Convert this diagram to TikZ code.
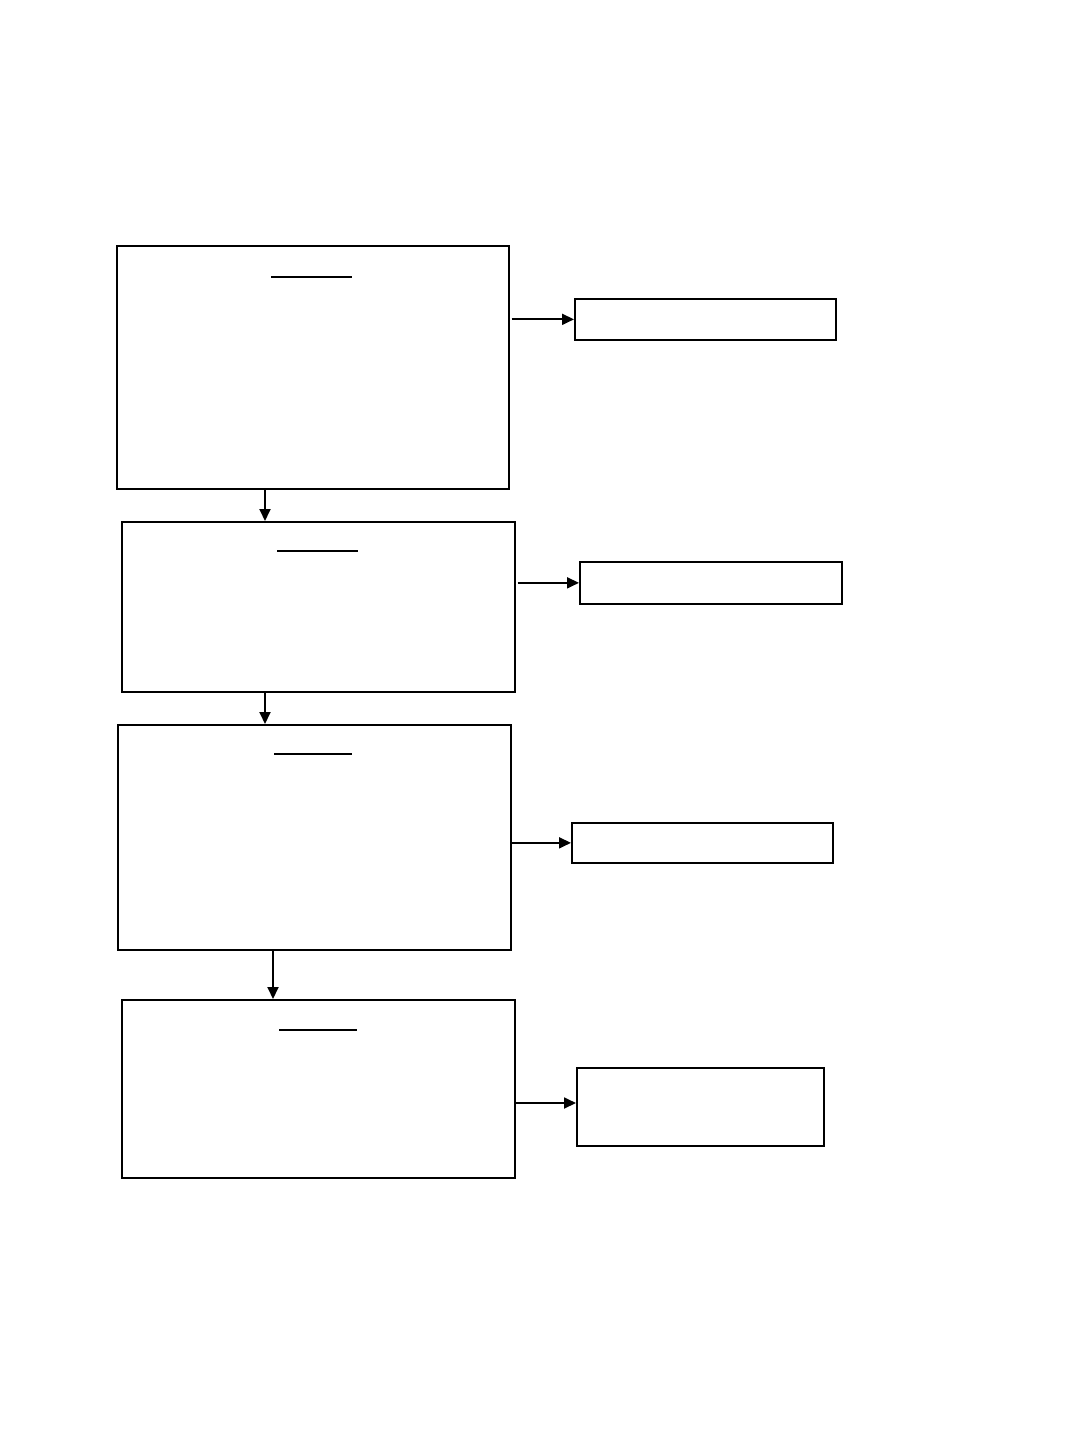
\documentclass[tikz,border=0pt]{standalone}
\usetikzlibrary{arrows.meta}
\begin{document}
\begin{tikzpicture}[x=1pt,y=-1pt,
  bigbox/.style={draw,line width=1.5pt,inner sep=0pt,anchor=north west},
  smallbox/.style={draw,line width=1.7pt,inner sep=0pt,anchor=north west},
  arr/.style={line width=1.8pt,-{Triangle[length=12pt,width=11pt]}},
  uline/.style={line width=1.8pt}]
\useasboundingbox (0,0) rectangle (1080,1440);
\fill[white] (0,0) rectangle (1080,1440);
% main boxes
\node[bigbox,minimum width=392pt,minimum height=243pt] (A) at (116,245) {};
\node[bigbox,minimum width=393pt,minimum height=170pt] (B) at (121,521) {};
\node[bigbox,minimum width=393pt,minimum height=225pt] (C) at (117,724) {};
\node[bigbox,minimum width=393pt,minimum height=178pt] (D) at (121,999) {};
% right boxes
\node[smallbox,minimum width=261pt,minimum height=41pt] (R1) at (574,298) {};
\node[smallbox,minimum width=262pt,minimum height=42pt] (R2) at (579,561) {};
\node[smallbox,minimum width=261pt,minimum height=40pt] (R3) at (571,822) {};
\node[smallbox,minimum width=247pt,minimum height=78pt] (R4) at (576,1067) {};
% underlines
\draw[uline] (271,277) -- (352,277);
\draw[uline] (277,551) -- (358,551);
\draw[uline] (274,754) -- (352,754);
\draw[line width=1.3pt] (279,1030) -- (357,1030);
% horizontal connectors
\draw[arr] ([xshift=2pt]A.east |- R1.west) -- (R1.west);
\draw[arr] ([xshift=2pt]B.east |- R2.west) -- (R2.west);
\draw[arr] (C.east |- R3.west) -- (R3.west);
\coordinate (d4) at (514,1103);
\draw[arr] (d4) -- (d4 -| R4.west);
% vertical connectors
\coordinate (ab) at (265,488);
\coordinate (bc) at (265,691);
\coordinate (cd) at (273,949);
\draw[arr] (ab) -- (ab |- B.north);
\draw[arr] (bc) -- (bc |- C.north);
\draw[arr] (cd) -- (cd |- D.north);
\end{tikzpicture}
\end{document}
